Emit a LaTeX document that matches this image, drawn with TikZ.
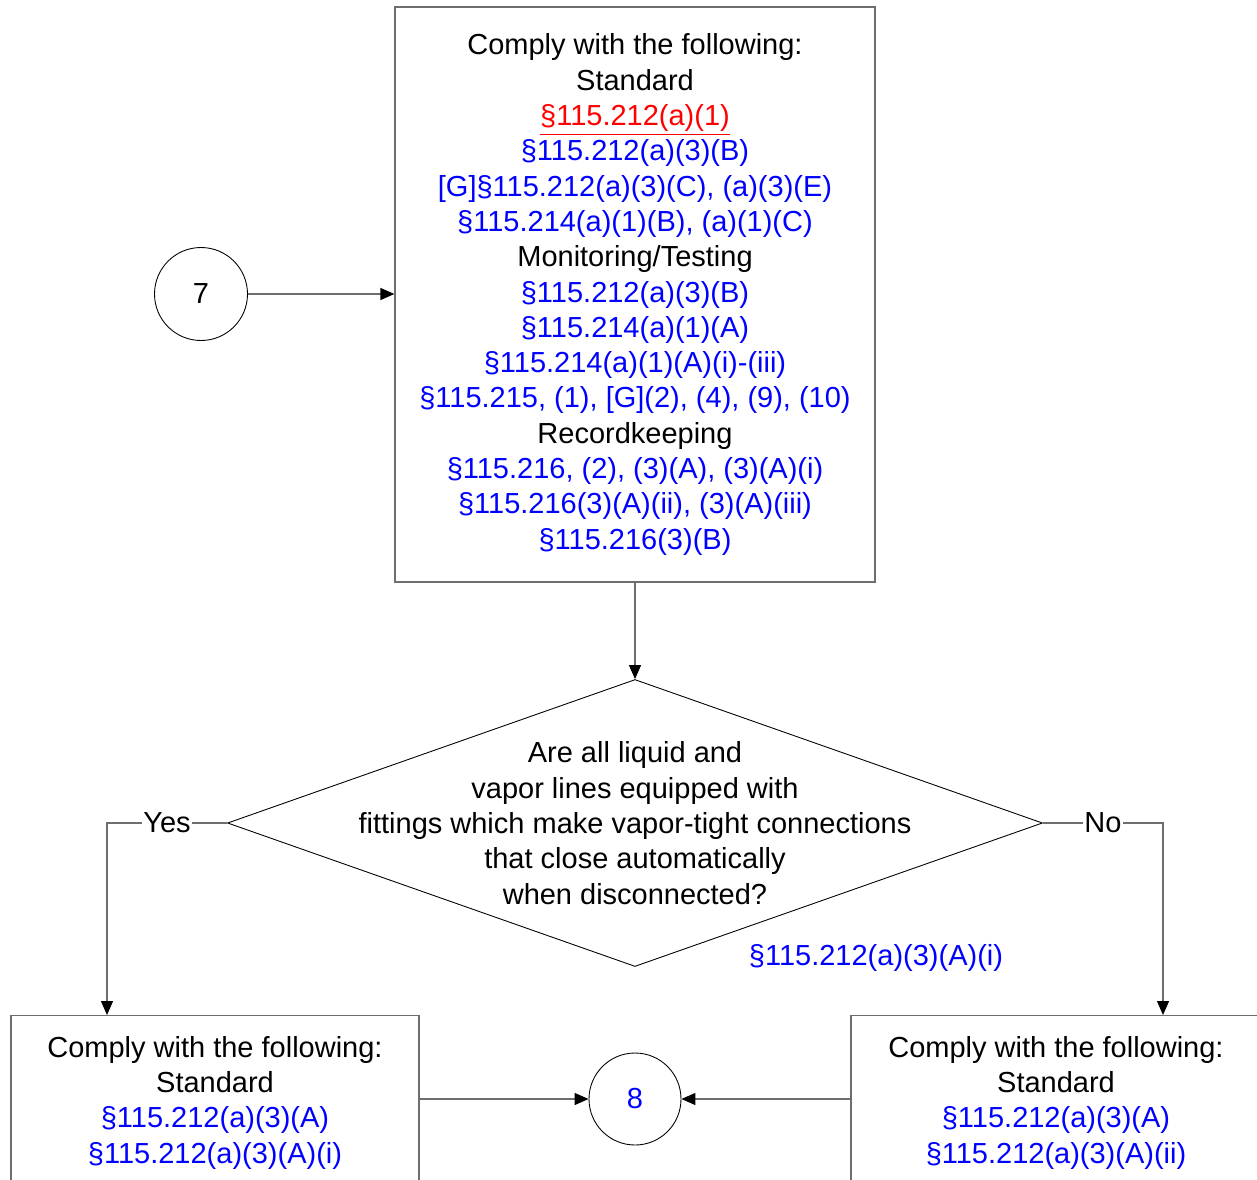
\documentclass[tikz,border=0pt]{standalone}
\usepackage{fontspec}
\setmainfont{Liberation Sans}
\usepackage{tikz}
\usetikzlibrary{shapes.geometric, arrows.meta, positioning}
\definecolor{refblue}{RGB}{0,0,255}
\definecolor{refred}{RGB}{255,0,0}
\definecolor{linegray}{RGB}{110,110,110}
\newcommand{\rref}[1]{\textcolor{refblue}{#1}} % blue rule references
\tikzset{
every node/.style={font=\fontsize{16.5}{20.1}\selectfont}, % Arial-like text size
box/.style={draw=linegray, line width=0.7pt, align=center, inner sep=0pt}, % the 'comply' boxes
link/.style={draw=linegray, line width=0.7pt, -{Triangle[length=0.28cm, width=0.24cm, color=black]}}, % connectors
offpage/.style={circle, draw=black, line width=0.5pt, minimum size=1.86cm, inner sep=0pt}, % numbered connectors
decision/.style={diamond, draw=black, line width=0.5pt, minimum width=16.3cm, minimum height=5.74cm, inner sep=0pt},
answer/.style={fill=white, inner sep=1pt},
}
\begin{document}
\begin{tikzpicture}
    \useasboundingbox (0,0) rectangle (25.14,-23.58);
    \clip (0,0) rectangle (25.14,-23.58);
    % Top part
    \node[offpage] (c7) at (4.02,-5.88) {7};
    \node[box, minimum width=9.6cm, minimum height=11.5cm] (std) at (12.7,-5.89) {%
      Comply with the following:\\
      Standard\\
      \textcolor{refred}{\underline{§115.212(a)(1)}}\\
      \rref{§115.212(a)(3)(B)}\\
      \rref{[G]§115.212(a)(3)(C), (a)(3)(E)}\\
      \rref{§115.214(a)(1)(B), (a)(1)(C)}\\
      Monitoring/Testing\\
      \rref{§115.212(a)(3)(B)}\\
      \rref{§115.214(a)(1)(A)}\\
      \rref{§115.214(a)(1)(A)(i)-(iii)}\\
      \rref{§115.215, (1), [G](2), (4), (9), (10)}\\
      Recordkeeping\\
      \rref{§115.216, (2), (3)(A), (3)(A)(i)}\\
      \rref{§115.216(3)(A)(ii), (3)(A)(iii)}\\
      \rref{§115.216(3)(B)}};
    % Decision
    \node[decision] (dec) at (12.7,-16.46) {};
    \node[align=center] (q) at (dec) {Are all liquid and\\
      vapor lines equipped with\\
      fittings which make vapor-tight connections\\
      that close automatically\\
      when disconnected?};
    \node (ref) at (17.52,-19.16) {\rref{§115.212(a)(3)(A)(i)}};
    \coordinate (yes) at (2.14,-16.46);
    \coordinate (no) at (23.26,-16.46);
    % Bottom part
    \node[box, anchor=north, minimum width=8.16cm, inner ysep=0.41cm, text depth=4cm] (lbox) at (4.3,-20.3) {%
      Comply with the following:\\
      Standard\\
      \rref{§115.212(a)(3)(A)}\\
      \rref{§115.212(a)(3)(A)(i)}};
    \node[box, anchor=north, minimum width=8.2cm, inner ysep=0.41cm, text depth=4cm] (rbox) at (21.12,-20.3) {%
      Comply with the following:\\
      Standard\\
      \rref{§115.212(a)(3)(A)}\\
      \rref{§115.212(a)(3)(A)(ii)}};
    \node[offpage, minimum size=1.84cm] (c8) at (12.7,-21.98) {\rref{8}};
    \draw[link] (c7) -- (c7 -| std.west);
    \draw[link] (std) -- (dec.north);
    \draw[link] (dec.west) -- node[answer] {Yes} (yes) -- (yes |- lbox.north);
    \draw[link] (dec.east) -- node[answer] {No} (no) -- (no |- rbox.north);
    \draw[link] (c8 -| lbox.east) -- (c8);
    \draw[link] (c8 -| rbox.west) -- (c8);
\end{tikzpicture}
\end{document}
